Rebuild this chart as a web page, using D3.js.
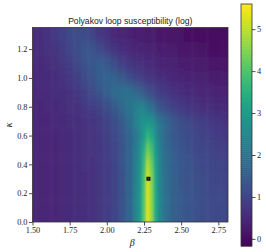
<!DOCTYPE html>
<html>
<head>
<meta charset="utf-8">
<script src="https://cdn.jsdelivr.net/npm/d3@7"></script>
<style>
  body { margin: 0; background: #fff; }
  svg { display: block; }
  .tick text { font-family: "Liberation Serif", serif; font-size: 8.3px; fill: #222; }
  .tick line { stroke: #222; stroke-width: 0.8; }
</style>
</head>
<body>
<div id="chart"></div>
<script>
// beta (columns) and kappa (rows) where the log susceptibility was read
var betaValues = [1.50, 1.55, 1.60, 1.65, 1.70, 1.75, 1.80, 1.85, 1.90, 1.95, 2.00, 2.05, 2.10, 2.15, 2.20,
  2.225, 2.25, 2.275, 2.30, 2.325, 2.35, 2.375, 2.40,
  2.45, 2.50, 2.55, 2.60, 2.65, 2.70, 2.75, 2.80, 2.85];
var kappaValues = [0.0, 0.1, 0.2, 0.3, 0.4, 0.5, 0.6, 0.7, 0.8, 0.9, 1.0, 1.1, 1.2, 1.3];

// one row per kappa value, one entry per beta value
var logChi = [
  [0.42,0.43,0.45,0.47,0.50,0.53,0.57,0.61,0.67,0.75,0.85,1.00,1.28,1.72,2.45,3.05,4.10,5.35,4.70,3.45,2.65,2.20,1.90,1.60,1.46,1.36,1.27,1.20,1.14,1.10,1.06,1.04],
  [0.42,0.43,0.45,0.47,0.50,0.53,0.57,0.61,0.67,0.75,0.85,1.00,1.28,1.70,2.40,3.00,4.05,5.30,4.65,3.40,2.62,2.18,1.90,1.60,1.45,1.35,1.27,1.20,1.14,1.10,1.06,1.04],
  [0.42,0.43,0.45,0.47,0.50,0.53,0.57,0.61,0.67,0.75,0.85,1.00,1.27,1.70,2.40,3.00,4.00,5.25,4.60,3.40,2.62,2.18,1.90,1.60,1.45,1.34,1.26,1.19,1.13,1.09,1.05,1.03],
  [0.42,0.43,0.45,0.47,0.50,0.53,0.57,0.61,0.67,0.75,0.85,1.00,1.27,1.68,2.35,2.95,3.95,5.20,4.55,3.35,2.60,2.16,1.88,1.58,1.43,1.32,1.24,1.17,1.11,1.06,1.02,1.00],
  [0.42,0.43,0.45,0.47,0.50,0.53,0.57,0.62,0.68,0.76,0.86,1.02,1.28,1.68,2.30,2.85,3.75,4.90,4.30,3.25,2.55,2.10,1.84,1.55,1.40,1.29,1.20,1.12,1.06,1.01,0.97,0.95],
  [0.43,0.44,0.46,0.48,0.50,0.53,0.57,0.62,0.69,0.77,0.88,1.04,1.30,1.68,2.25,2.75,3.45,4.35,3.90,3.05,2.45,2.04,1.78,1.50,1.35,1.23,1.13,1.05,0.98,0.93,0.89,0.86],
  [0.43,0.44,0.46,0.48,0.51,0.54,0.58,0.63,0.70,0.79,0.90,1.07,1.32,1.68,2.12,2.50,2.95,3.55,3.30,2.75,2.28,1.95,1.70,1.42,1.26,1.14,1.04,0.96,0.89,0.83,0.79,0.76],
  [0.44,0.45,0.47,0.49,0.52,0.56,0.60,0.65,0.73,0.83,0.96,1.16,1.45,1.85,2.35,2.62,2.82,2.88,2.72,2.42,2.12,1.88,1.68,1.40,1.20,1.06,0.95,0.86,0.78,0.72,0.66,0.62],
  [0.45,0.47,0.50,0.53,0.57,0.62,0.68,0.76,0.87,1.00,1.20,1.45,1.75,2.05,2.30,2.38,2.30,2.10,1.85,1.58,1.38,1.22,1.10,0.94,0.82,0.73,0.66,0.60,0.56,0.52,0.49,0.47],
  [0.47,0.49,0.52,0.56,0.61,0.68,0.77,0.90,1.07,1.30,1.55,1.80,1.98,1.98,1.75,1.60,1.45,1.30,1.15,1.02,0.92,0.84,0.78,0.68,0.60,0.54,0.49,0.45,0.42,0.39,0.37,0.35],
  [0.48,0.51,0.55,0.60,0.67,0.77,0.90,1.07,1.30,1.52,1.68,1.65,1.45,1.20,0.98,0.90,0.82,0.75,0.69,0.64,0.60,0.56,0.53,0.47,0.43,0.39,0.36,0.33,0.31,0.29,0.27,0.26],
  [0.50,0.53,0.58,0.65,0.75,0.88,1.05,1.25,1.42,1.50,1.40,1.18,0.95,0.78,0.65,0.60,0.56,0.52,0.49,0.46,0.43,0.41,0.39,0.35,0.31,0.28,0.25,0.22,0.19,0.17,0.15,0.14],
  [0.52,0.56,0.63,0.72,0.85,1.02,1.20,1.33,1.32,1.15,0.92,0.73,0.60,0.50,0.43,0.41,0.39,0.37,0.35,0.33,0.31,0.29,0.27,0.24,0.21,0.18,0.15,0.12,0.10,0.08,0.06,0.05],
  [0.55,0.60,0.68,0.80,0.95,1.10,1.20,1.15,0.98,0.78,0.62,0.50,0.42,0.36,0.31,0.29,0.27,0.25,0.24,0.22,0.21,0.19,0.18,0.15,0.12,0.09,0.07,0.05,0.03,0.01,-0.01,-0.03]
];

var criticalPoint = [2.28, 0.30];

var xTickValues = [1.50, 1.75, 2.00, 2.25, 2.50, 2.75];
var yTickValues = [0.0, 0.2, 0.4, 0.6, 0.8, 1.0, 1.2];
var colorTickValues = [0, 1, 2, 3, 4, 5];
var colorDomain = [-0.17, 5.6];
var titleText = "Polyakov loop susceptibility (log)";

var width = 266, height = 252;
var plotBox = { left: 32.5, top: 27.5, right: 228, bottom: 222 };
var barBox = { left: 241, top: 4, right: 252, bottom: 246 };

var svg = d3.select("#chart").append("svg")
  .attr("width", width)
  .attr("height", height);

var xScale = d3.scaleLinear().domain([1.5, 2.815]).range([plotBox.left, plotBox.right]);
var yScale = d3.scaleLinear().domain([0, 1.35]).range([plotBox.bottom, plotBox.top]);
var color = d3.scaleSequential(d3.interpolateViridis).domain(colorDomain);

var defs = svg.append("defs");
defs.append("clipPath").attr("id", "plotclip")
  .append("rect")
  .attr("x", plotBox.left).attr("y", plotBox.top)
  .attr("width", plotBox.right - plotBox.left)
  .attr("height", plotBox.bottom - plotBox.top);

// smooth out the cell edges a little, like the interpolated image
defs.append("filter").attr("id", "smooth")
  .attr("filterUnits", "userSpaceOnUse")
  .attr("x", plotBox.left - 30).attr("y", plotBox.top - 30)
  .attr("width", plotBox.right - plotBox.left + 60)
  .attr("height", plotBox.bottom - plotBox.top + 60)
  .append("feGaussianBlur").attr("stdDeviation", "1.1 5");

// cell edges halfway between neighbouring grid values,
// outer cells pushed past the frame so the blur has no soft rim
function edges(vals, scale, pad) {
  var dir = Math.sign(scale(vals[1]) - scale(vals[0]));
  return vals.map(function(v, i) {
    var a = i === 0 ? scale(v) - pad * dir : scale((vals[i - 1] + v) / 2);
    var b = i === vals.length - 1 ? scale(v) + pad * dir : scale((vals[i + 1] + v) / 2);
    return [Math.min(a, b), Math.max(a, b)];
  });
}
var colEdges = edges(betaValues, xScale, 20);
var rowEdges = edges(kappaValues, yScale, 20);

var cells = [];
logChi.forEach(function(row, j) {
  row.forEach(function(v, i) {
    cells.push({ i: i, j: j, v: v });
  });
});

var heat = svg.append("g").attr("clip-path", "url(#plotclip)")
  .append("g").attr("filter", "url(#smooth)");

heat.selectAll("rect")
  .data(cells)
  .enter().append("rect")
  .attr("x", function(d) { return colEdges[d.i][0]; })
  .attr("y", function(d) { return rowEdges[d.j][0]; })
  .attr("width", function(d) { return colEdges[d.i][1] - colEdges[d.i][0] + 0.5; })
  .attr("height", function(d) { return rowEdges[d.j][1] - rowEdges[d.j][0] + 0.5; })
  .attr("fill", function(d) { return color(d.v); });

// marker
svg.append("rect")
  .attr("x", xScale(criticalPoint[0]) - 2)
  .attr("y", yScale(criticalPoint[1]) - 2)
  .attr("width", 4).attr("height", 4)
  .attr("fill", "#111");
svg.append("rect")
  .attr("x", xScale(criticalPoint[0]) - 0.5)
  .attr("y", yScale(criticalPoint[1]) - 0.5)
  .attr("width", 1).attr("height", 1)
  .attr("fill", "#666");

// axes
var xAxis = d3.axisBottom(xScale).tickValues(xTickValues)
  .tickFormat(d3.format(".2f")).tickSize(3.5).tickPadding(1.5);
svg.append("g")
  .attr("transform", "translate(0," + plotBox.bottom + ")")
  .call(xAxis)
  .call(function(g) { g.select(".domain").remove(); });

var yAxis = d3.axisLeft(yScale).tickValues(yTickValues)
  .tickFormat(d3.format(".1f")).tickSize(3.5).tickPadding(1.5);
svg.append("g")
  .attr("transform", "translate(" + plotBox.left + ",0)")
  .call(yAxis)
  .call(function(g) { g.select(".domain").remove(); });

svg.append("rect")
  .attr("x", plotBox.left).attr("y", plotBox.top)
  .attr("width", plotBox.right - plotBox.left)
  .attr("height", plotBox.bottom - plotBox.top)
  .attr("fill", "none").attr("stroke", "#333").attr("stroke-width", 0.8);

// labels
svg.append("text")
  .attr("x", (plotBox.left + plotBox.right) / 2)
  .attr("y", 24)
  .attr("text-anchor", "middle")
  .style("font-family", "'Liberation Sans', sans-serif")
  .style("font-size", "8.6px")
  .style("fill", "#222")
  .text(titleText);

svg.append("text")
  .attr("x", (plotBox.left + plotBox.right) / 2 + 2)
  .attr("y", 246)
  .attr("text-anchor", "middle")
  .style("font-family", "'Liberation Serif', serif")
  .style("font-style", "italic")
  .style("font-size", "10px")
  .style("fill", "#222")
  .text("β");

svg.append("text")
  .attr("transform", "translate(12," + ((plotBox.top + plotBox.bottom) / 2) + ") rotate(-90)")
  .attr("text-anchor", "middle")
  .style("font-family", "'Liberation Serif', serif")
  .style("font-style", "italic")
  .style("font-size", "10px")
  .style("fill", "#222")
  .text("κ");

// colour bar
var cScale = d3.scaleLinear().domain(colorDomain).range([barBox.bottom, barBox.top]);
var steps = d3.range(120).map(function(k) {
  return colorDomain[0] + (colorDomain[1] - colorDomain[0]) * k / 120;
});
var stepSize = (colorDomain[1] - colorDomain[0]) / 120;
svg.append("g").selectAll("rect")
  .data(steps)
  .enter().append("rect")
  .attr("x", barBox.left)
  .attr("width", barBox.right - barBox.left)
  .attr("y", function(d) { return cScale(d + stepSize); })
  .attr("height", function(d) { return cScale(d) - cScale(d + stepSize) + 0.5; })
  .attr("fill", function(d) { return color(d + stepSize / 2); });

svg.append("rect")
  .attr("x", barBox.left).attr("y", barBox.top)
  .attr("width", barBox.right - barBox.left)
  .attr("height", barBox.bottom - barBox.top)
  .attr("fill", "none").attr("stroke", "#333").attr("stroke-width", 0.8);

var cAxis = d3.axisRight(cScale).tickValues(colorTickValues)
  .tickFormat(d3.format("d")).tickSize(3.5).tickPadding(1.5);
svg.append("g")
  .attr("transform", "translate(" + barBox.right + ",0)")
  .call(cAxis)
  .call(function(g) { g.select(".domain").remove(); });
</script>
</body>
</html>
